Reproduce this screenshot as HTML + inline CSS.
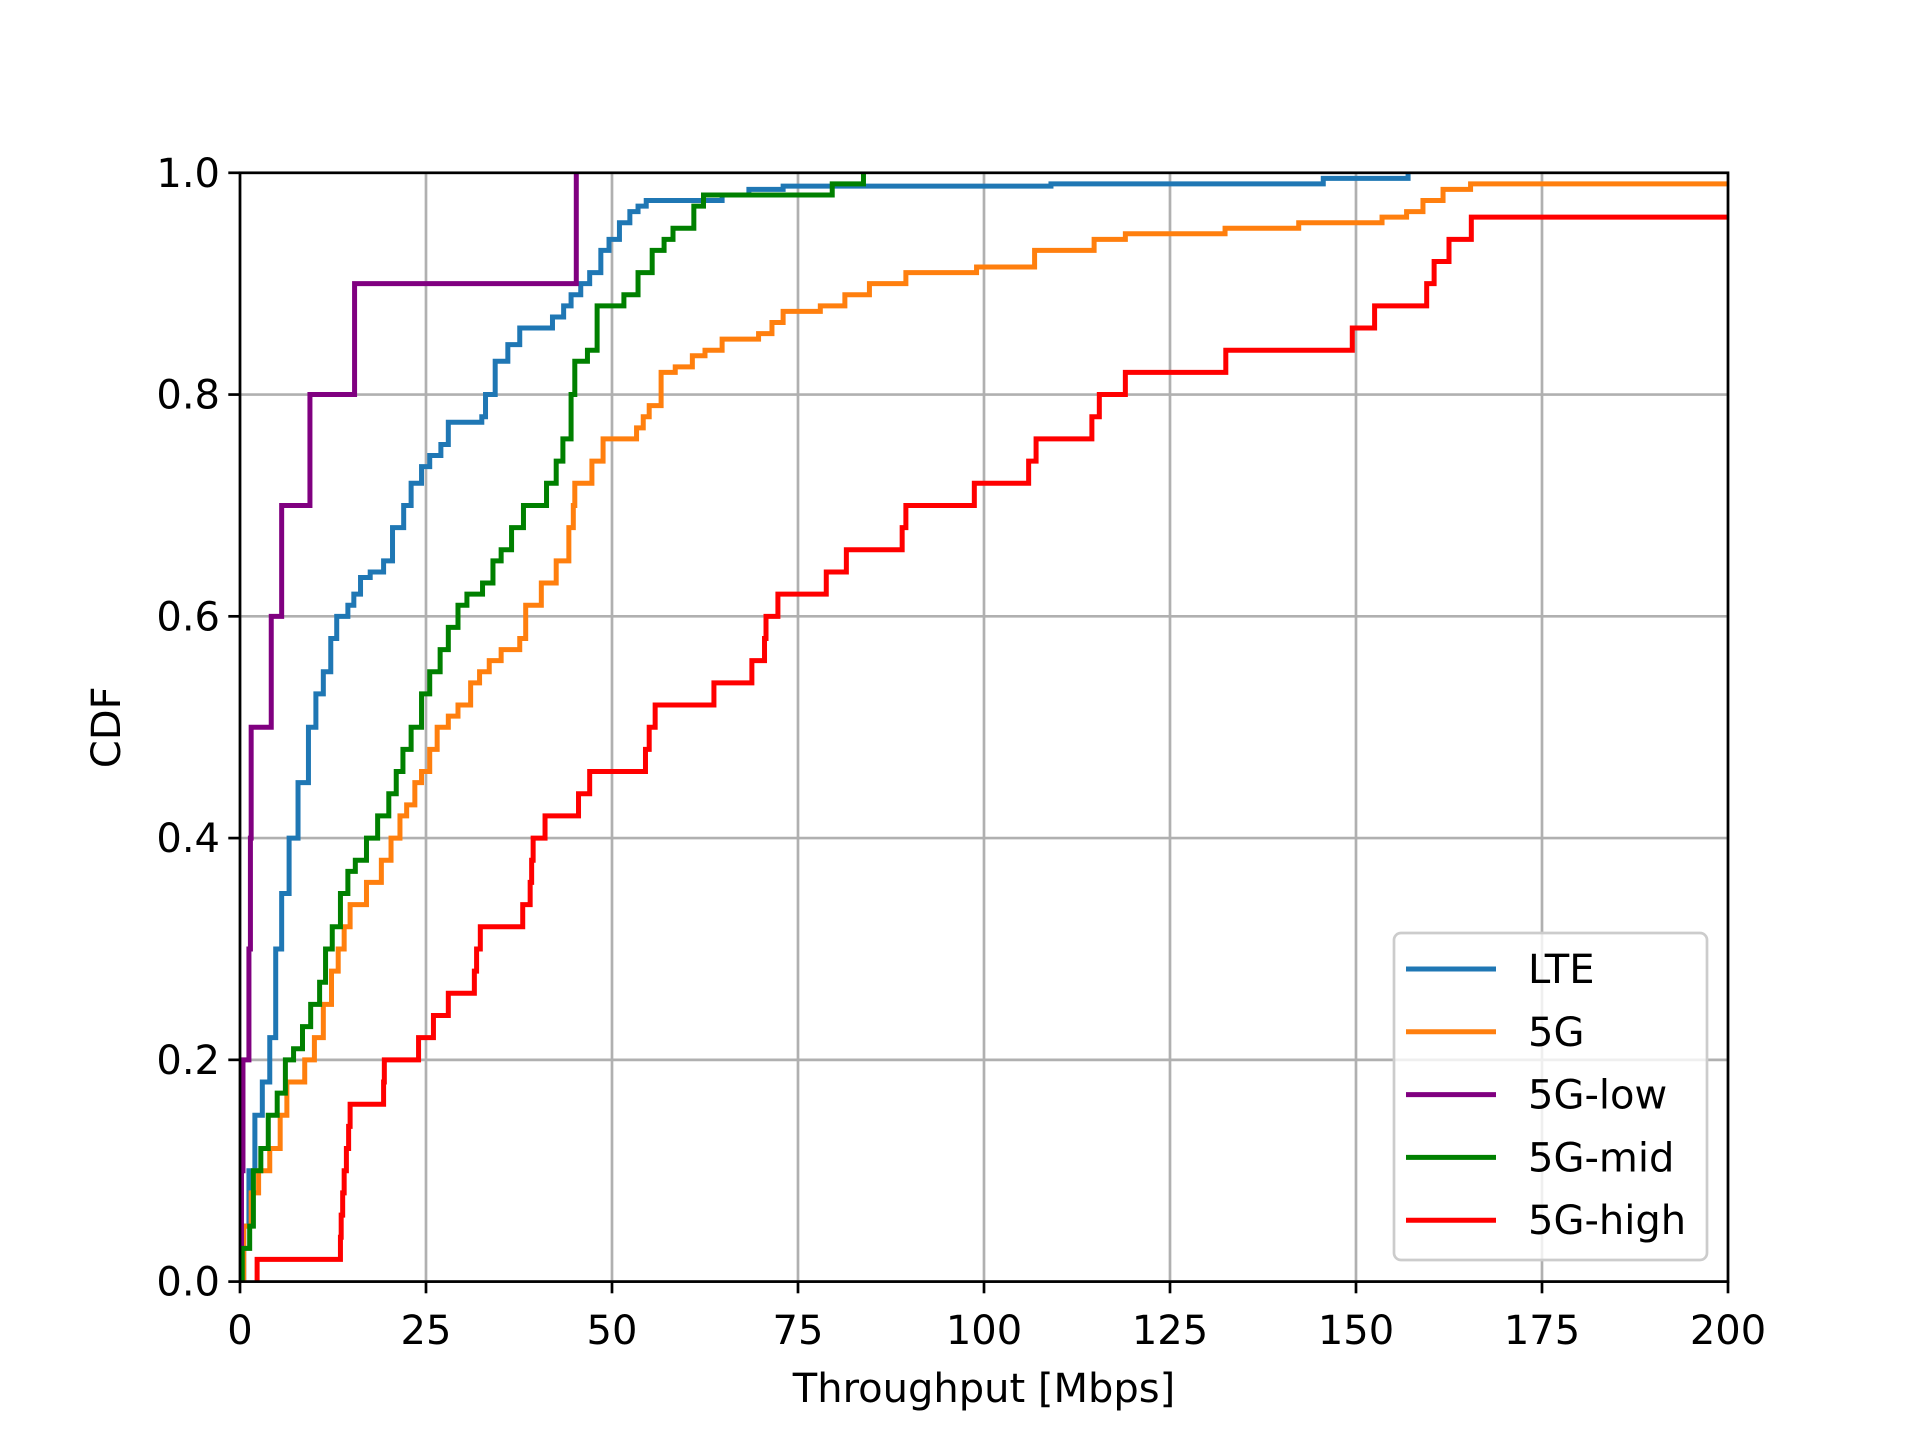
<!DOCTYPE html>
<html><head><meta charset="utf-8"><style>
body{margin:0;background:#fff;}
svg{display:block;font-family:"DejaVu Sans","Liberation Sans",sans-serif;}
</style></head><body>
<svg id="chart" width="1920" height="1440" viewBox="0 0 1920 1440" xmlns="http://www.w3.org/2000/svg">
<rect width="1920" height="1440" fill="#fff"/>
<g id="grid"></g>
<g id="series"></g>
<g id="axes"></g>
<g id="legend"></g>
</svg>
<script>
const xTicks=[0,25,50,75,100,125,150,175,200];
const yTicks=[0.0,0.2,0.4,0.6,0.8,1.0];
const seriesNames=["LTE","5G","5G-low","5G-mid","5G-high"];
const seriesColors=["#1f77b4","#ff7f0e","#800080","#008000","#ff0000"];
// step points: at x the CDF jumps to y
const lteX=[0.5,1.2,2,3,4,4.8,5.6,6.6,7.8,9.2,10.2,11.2,12.2,13,14.5,15.3,16.2,17.5,19.3,20.5,22,23,24.4,25.5,27,28,32.5,33,34.3,36,37.6,42,43.5,44.5,45.8,47,48.5,49.6,51,52.4,53.5,54.6,64.8,68.4,73,109,145.6,157];
const lteY=[0.05,0.1,0.15,0.18,0.22,0.3,0.35,0.4,0.45,0.5,0.53,0.55,0.58,0.6,0.61,0.62,0.635,0.64,0.65,0.68,0.7,0.72,0.735,0.745,0.755,0.775,0.78,0.8,0.83,0.845,0.86,0.87,0.88,0.89,0.9,0.91,0.93,0.94,0.955,0.965,0.97,0.975,0.98,0.985,0.988,0.99,0.995,1.0];
const g5X=[0.5,1.5,2.5,4,5.4,6.3,8.7,10,11.2,12.3,13.2,14,14.8,17,19,20.3,21.5,22.4,23.5,24.4,25.5,26.5,28,29.3,31,32.2,33.5,35.1,37.6,38.4,40.5,42.5,44.2,44.8,45,47.3,48.8,53.3,54.2,55,56.6,58.5,60.8,62.5,64.8,69.7,71.5,73,78,81.3,84.6,89.5,99,106.8,114.8,119,132.4,142.3,153.5,156.8,159,161.7,165.4];
const g5Y=[0.05,0.08,0.1,0.12,0.15,0.18,0.2,0.22,0.25,0.28,0.3,0.32,0.34,0.36,0.38,0.4,0.42,0.43,0.45,0.46,0.48,0.5,0.51,0.52,0.54,0.55,0.56,0.57,0.58,0.61,0.63,0.65,0.68,0.7,0.72,0.74,0.76,0.77,0.78,0.79,0.82,0.825,0.835,0.84,0.85,0.855,0.865,0.875,0.88,0.89,0.9,0.91,0.915,0.93,0.94,0.945,0.95,0.955,0.96,0.965,0.975,0.985,0.99];
const lowSamples=[0.2,0.4,1.2,1.4,1.5,4.2,5.6,9.4,15.4,45.2];
const midX=[0.3,1.3,1.8,2.8,3.8,5,6.1,7.2,8.4,9.5,10.7,11.5,12.4,13.5,14.5,15.5,17,18.5,20,21,21.9,23,24.4,25.5,26.9,28,29.3,30.5,32.6,34,35.1,36.5,38.1,41.2,42.5,43.4,44.5,45,46.7,48,51.6,53.5,55.4,57,58.2,61,62.3,79.6,83.8];
const midY=[0.03,0.05,0.1,0.12,0.15,0.17,0.2,0.21,0.23,0.25,0.27,0.3,0.32,0.35,0.37,0.38,0.4,0.42,0.44,0.46,0.48,0.5,0.53,0.55,0.57,0.59,0.61,0.62,0.63,0.65,0.66,0.68,0.7,0.72,0.74,0.76,0.8,0.83,0.84,0.88,0.89,0.91,0.93,0.94,0.95,0.97,0.98,0.99,1.0];
const highSamples=[2.3,13.5,13.6,13.8,14.0,14.3,14.6,14.8,19.3,19.4,24,26,28,31.5,31.8,32.3,38,39,39.2,39.4,41,45.5,47,54.5,55,55.8,63.7,68.8,70.5,70.7,72.3,78.8,81.5,89,89.5,98.7,106,107,114.5,115.5,119,132.5,149.5,152.5,159.5,160.5,162.5,165.5,250,300];

const L=240,R=1728,T=172.8,B=1281.6;
const sx=v=>L+(v-0)/200*(R-L);
const sy=v=>B-v*(B-T);
const NS="http://www.w3.org/2000/svg";
function mk(tag,attrs,parent){const e=document.createElementNS(NS,tag);for(const k in attrs)e.setAttribute(k,attrs[k]);parent.appendChild(e);return e;}
const grid=document.getElementById('grid'),ser=document.getElementById('series'),axes=document.getElementById('axes'),leg=document.getElementById('legend');
xTicks.forEach(t=>{const l=mk('line',{x1:sx(t),x2:sx(t),y1:T,y2:B,stroke:'#b0b0b0','stroke-width':2.7},grid);

});
yTicks.forEach(t=>{const l=mk('line',{x1:L,x2:R,y1:sy(t),y2:sy(t),stroke:'#b0b0b0','stroke-width':2.7},grid);

});
function cdfFromSamples(s){const xs=s.slice().sort((a,b)=>a-b);return {x:xs,y:xs.map((v,i)=>(i+1)/xs.length)};}
const low=cdfFromSamples(lowSamples),high=cdfFromSamples(highSamples);
const data=[{x:lteX,y:lteY},{x:g5X,y:g5Y},low,{x:midX,y:midY},high];
const clip=mk('clipPath',{id:'cp'},mk('defs',{},ser));mk('rect',{x:L,y:T-3,width:R-L,height:B-T+6},clip);
data.forEach((d,i)=>{let p='M'+sx(d.x[0])+' '+sy(0);
for(let k=0;k<d.x.length;k++){p+=' H'+sx(d.x[k])+' V'+sy(d.y[k]);}
if(i==1||i==4)p+=' H'+sx(210);
const path=mk('path',{d:p,fill:'none',stroke:seriesColors[i],'stroke-width':5,'clip-path':'url(#cp)','stroke-linejoin':'miter','stroke-linecap':'butt'},ser);

});
const fr=mk('rect',{x:L,y:T,width:R-L,height:B-T,fill:'none',stroke:'#000','stroke-width':2.7},axes);


xTicks.forEach(t=>{mk('line',{x1:sx(t),x2:sx(t),y1:B,y2:B+11.7,stroke:'#000','stroke-width':2.7},axes);
const tx=mk('text',{x:sx(t),y:1344,'text-anchor':'middle','font-size':40,fill:'#000'},axes);tx.textContent=t;

});
yTicks.forEach(t=>{mk('line',{x1:L-11.7,x2:L,y1:sy(t),y2:sy(t),stroke:'#000','stroke-width':2.7},axes);
const tx=mk('text',{x:220,y:sy(t)+14,'text-anchor':'end','font-size':40,fill:'#000'},axes);tx.textContent=t.toFixed(1);

});
const xl=mk('text',{x:(L+R)/2,y:1402,'text-anchor':'middle','font-size':40,fill:'#000'},axes);xl.textContent='Throughput [Mbps]';


const yl=mk('text',{x:0,y:0,'text-anchor':'middle','font-size':40,fill:'#000',transform:'translate(120,'+((T+B)/2)+') rotate(-90)'},axes);yl.textContent='CDF';


const box=mk('rect',{x:1394,y:933,width:313,height:327,rx:7,fill:'#fff','fill-opacity':0.8,stroke:'#cccccc','stroke-width':2.7},leg);


seriesNames.forEach((n,i)=>{const y=969+i*62.8;
const g=mk('g',{},leg);


mk('line',{x1:1406,x2:1496,y1:y,y2:y,stroke:seriesColors[i],'stroke-width':5},g);
const t=mk('text',{x:1528,y:y+14,'font-size':40,fill:'#000'},g);t.textContent=n;});
</script>
</body></html>
